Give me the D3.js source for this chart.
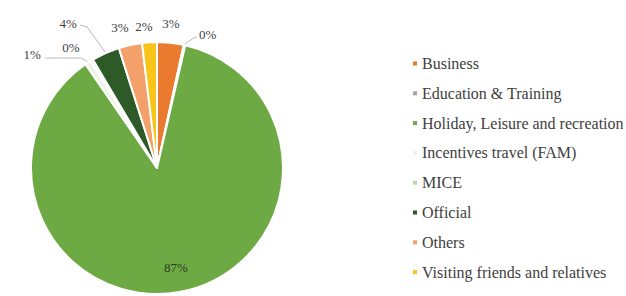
<!DOCTYPE html>
<html>
<head>
<meta charset="utf-8">
<script src="https://cdn.jsdelivr.net/npm/d3@7"></script>
<style>
  html, body { margin: 0; padding: 0; background: #ffffff; }
  svg { display: block; }
</style>
</head>
<body>
<svg id="chart" width="626" height="296"></svg>
<script>
// ---- data ----
const categories = [
  "Business",
  "Education & Training",
  "Holiday, Leisure and recreation",
  "Incentives travel (FAM)",
  "MICE",
  "Official",
  "Others",
  "Visiting friends and relatives"
];
const values = [3.4, 0.2, 86.8, 0.8, 0.3, 3.6, 3.0, 1.9];
const labels = ["3%", "0%", "87%", "1%", "0%", "4%", "3%", "2%"];
const colors = ["#EA7A2E", "#A5A5A5", "#6EAA44", "#EEF5E6", "#BDD7A8", "#2D5A27", "#F4A06A", "#F9C41A"];

// ---- layout ----
const W = 626, H = 296;
const cx = 157, cy = 168, R = 126;
// label placement: [angle in degrees (clockwise from top), distance from centre], leader flag
const labelPlacement = [
  [5.5, 145, false],
  [20.8, 143, true],
  [null, 101, false],
  [312.4, 169, true],
  [324.4, 148, false],
  [328.5, 170, true],
  [345.2, 145, false],
  [354.7, 142, false]
];

const svg = d3.select("#chart");
const g = svg.append("g").attr("transform", `translate(${cx},${cy})`);

const pie = d3.pie().sort(null).value(d => d)(values);
const arc = d3.arc().innerRadius(0).outerRadius(R);

g.selectAll("path.slice")
  .data(pie)
  .join("path")
  .attr("class", "slice")
  .attr("d", arc)
  .attr("fill", (d, i) => colors[i])
  .attr("stroke", "#ffffff")
  .attr("stroke-width", 2)
  .attr("stroke-linejoin", "round");

const rad = a => a * Math.PI / 180;
const polar = (aDeg, r) => [r * Math.sin(rad(aDeg)), -r * Math.cos(rad(aDeg))];

const labelG = g.append("g");
pie.forEach((d, i) => {
  const [ang, dist, leader] = labelPlacement[i];
  const mid = (d.startAngle + d.endAngle) / 2 * 180 / Math.PI;
  const a = ang === null ? mid : ang;
  const [lx, ly] = polar(a, dist);
  labelG.append("text")
    .attr("x", lx).attr("y", ly)
    .attr("text-anchor", "middle")
    .attr("dominant-baseline", "central")
    .attr("font-family", "'Liberation Serif', 'Times New Roman', serif")
    .attr("font-size", 13)
    .attr("fill", i === 2 ? "#2b3a22" : "#404040")
    .text(labels[i]);
  if (leader) {
    const [ex, ey] = polar(mid, R + 1);
    let pts;
    if (i === 1) {
      pts = [[ex, ey], [lx - 13, ly + 3], [lx - 11, ly + 3]];
    } else if (i === 3) {
      pts = [[ex, ey], [ex - 6, ly + 4], [lx + 13, ly + 4]];
    } else {
      pts = [[ex, ey], [lx + 19, ly + 4], [lx + 12, ly + 2]];
    }
    labelG.append("path")
      .attr("d", d3.line()(pts))
      .attr("fill", "none")
      .attr("stroke", "#A6A6A6")
      .attr("stroke-width", 0.8);
  }
});

// ---- legend ----
const legendX = 415, legendY0 = 63.5, legendStep = 29.8;
const legend = svg.append("g");
categories.forEach((c, i) => {
  const y = legendY0 + i * legendStep;
  legend.append("rect")
    .attr("x", legendX - 2).attr("y", y - 2)
    .attr("width", 4).attr("height", 4)
    .attr("fill", colors[i]);
  legend.append("text")
    .attr("x", legendX + 7).attr("y", y)
    .attr("dominant-baseline", "central")
    .attr("font-family", "'Liberation Serif', 'Times New Roman', serif")
    .attr("font-size", 16)
    .attr("fill", "#404040")
    .text(c);
});
</script>
</body>
</html>
